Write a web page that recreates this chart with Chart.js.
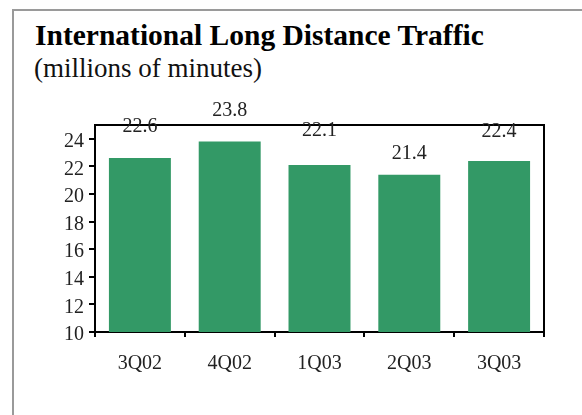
<!DOCTYPE html>
<html>
<head>
<meta charset="utf-8">
<script src="https://cdn.jsdelivr.net/npm/chart.js@4/dist/chart.umd.min.js"></script>
<style>
  html, body { margin: 0; padding: 0; background: #ffffff; }
  #wrap { position: relative; width: 582px; height: 415px; overflow: hidden; }
  #frame { position: absolute; left: 12px; top: 9px; width: 600px; height: 450px;
           border-left: 2px solid #9a9a9a; border-top: 2px solid #9a9a9a; box-sizing: border-box; }
  #title { position: absolute; left: 35px; top: 21px; font: bold 29.5px/1 "Liberation Serif", "Times New Roman", serif; color: #000; white-space: nowrap; }
  #subtitle { position: absolute; left: 34px; top: 55px; font: 27px/1 "Liberation Serif", "Times New Roman", serif; color: #111; white-space: nowrap; }
  canvas { position: absolute; left: 0; top: 0; }
</style>
</head>
<body>
<div id="wrap">
  <div id="frame"></div>
  <div id="title">International Long Distance Traffic</div>
  <div id="subtitle">(millions of minutes)</div>
  <canvas id="c" width="582" height="415"></canvas>
</div>
<script>
// Quarterly international long distance traffic, millions of minutes
const quarters = ['3Q02', '4Q02', '1Q03', '2Q03', '3Q03'];
const minutes = [22.6, 23.8, 22.1, 21.4, 22.4];
const yTicks = [10, 12, 14, 16, 18, 20, 22, 24];

const serif = '"Liberation Serif", "Times New Roman", serif';

// Box around the plot area (top and right edges)
const plotFrame = {
  id: 'plotFrame',
  afterDraw(chart) {
    const { ctx, chartArea: a } = chart;
    ctx.save();
    ctx.strokeStyle = '#000';
    ctx.lineWidth = 2;
    ctx.beginPath();
    ctx.moveTo(a.left, a.top);
    ctx.lineTo(a.right, a.top);
    ctx.lineTo(a.right, a.bottom);
    ctx.stroke();
    ctx.restore();
  }
};

// Value labels above each bar
const valueLabels = {
  id: 'valueLabels',
  afterDraw(chart, args, opts) {
    const { ctx } = chart;
    const meta = chart.getDatasetMeta(0);
    ctx.save();
    ctx.font = '20px ' + serif;
    ctx.fillStyle = '#222';
    ctx.textAlign = 'center';
    ctx.textBaseline = 'middle';
    meta.data.forEach((bar, i) => {
      const v = chart.data.datasets[0].data[i];
      ctx.fillText(v.toFixed(1), bar.x, bar.y - opts.rise[i]);
    });
    ctx.restore();
  }
};

new Chart(document.getElementById('c'), {
  type: 'bar',
  data: {
    labels: quarters,
    datasets: [{
      data: minutes,
      backgroundColor: '#339966',
      borderWidth: 0,
      barPercentage: 0.69,
      categoryPercentage: 1
    }]
  },
  options: {
    responsive: false,
    animation: false,
    events: [],
    layout: { padding: { left: 0, top: 125, right: 38, bottom: 0 } },
    plugins: {
      legend: { display: false },
      tooltip: { enabled: false },
      valueLabels: { rise: [31, 31, 34, 21, 29] }
    },
    scales: {
      x: {
        afterFit(s) { s.height = 83; },
        grid: { offset: true, drawOnChartArea: false, color: '#000', lineWidth: 2, tickLength: 5 },
        border: { color: '#000', width: 2 },
        ticks: { color: '#222', font: { family: serif, size: 20 }, padding: 15 }
      },
      y: {
        min: 10,
        max: 25,
        afterFit(s) { s.width = 95; },
        afterBuildTicks(s) { s.ticks = yTicks.map(v => ({ value: v })); },
        grid: { drawOnChartArea: false, color: '#000', lineWidth: 2, tickLength: 6 },
        border: { color: '#000', width: 2 },
        ticks: { color: '#222', font: { family: serif, size: 20 }, padding: 5, labelOffset: 3 }
      }
    }
  },
  plugins: [plotFrame, valueLabels]
});
</script>
</body>
</html>
